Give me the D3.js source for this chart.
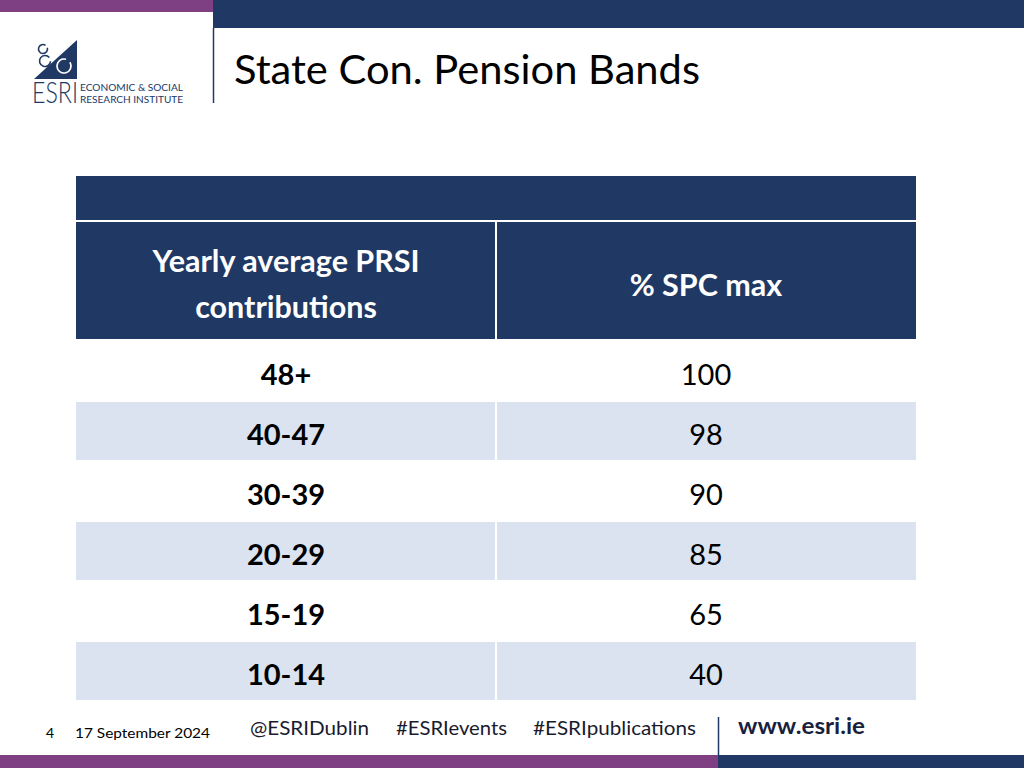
<!DOCTYPE html>
<html>
<head>
<meta charset="utf-8">
<script src="https://cdn.jsdelivr.net/npm/d3@7"></script>
<style>
  html, body { margin: 0; padding: 0; background: #ffffff; }
  svg { display: block; font-family: Lato, "Open Sans", sans-serif; }
</style>
</head>
<body>
<script>

// table contents
var bands       = ["48+", "40-47", "30-39", "20-29", "15-19", "10-14"];
var pctMax      = [100, 98, 90, 85, 65, 40];
var colHeads    = [["Yearly average PRSI", "contributions"], ["% SPC max"]];
var footerTags  = ["@ESRIDublin", "#ESRIevents", "#ESRIpublications"];

var W           = 1024,
    H           = 768;
var navy        = "#203864",
    purple      = "#7f3f83",
    stripe      = "#dae3ef";

var svg = d3.select("body").append("svg")
    .attr("width", W)
    .attr("height", H);

// top bars
svg.append("rect").attr("x", 0).attr("y", 0).attr("width", 213).attr("height", 12).attr("fill", purple);
svg.append("rect").attr("x", 213).attr("y", 0).attr("width", W - 213).attr("height", 28).attr("fill", navy);
svg.append("line").attr("x1", 213.5).attr("x2", 213.5).attr("y1", 28).attr("y2", 103)
    .attr("stroke", navy).attr("stroke-width", 1.5);

// logo
var logo = svg.append("g");
var arc  = d3.arc();
logo.append("path").attr("d", "M34,79 L77,40 L77,79 Z").attr("fill", navy);
// open rings: [cx, cy, r, gap start, colour]
[[43, 49, 4.5, 0.6, navy], [45, 61, 5.5, 0.9, navy], [64, 66, 7, 0.3, "#ffffff"]].forEach(function(c) {
    logo.append("path")
        .attr("transform", "translate(" + c[0] + "," + c[1] + ")")
        .attr("d", arc({ innerRadius: c[2] - 0.8, outerRadius: c[2] + 0.8,
                         startAngle: c[3] + 0.7, endAngle: c[3] + 2 * Math.PI }))
        .attr("fill", c[4]);
});
logo.append("text").attr("x", 32).attr("y", 103)
    .attr("font-size", 29).attr("font-weight", 300).attr("fill", navy)
    .attr("textLength", 46).attr("lengthAdjust", "spacingAndGlyphs")
    .text("ESRI");
logo.append("text").attr("x", 80).attr("y", 91)
    .attr("font-size", 9.5).attr("fill", navy)
    .attr("textLength", 103).attr("lengthAdjust", "spacingAndGlyphs")
    .text("ECONOMIC & SOCIAL");
logo.append("text").attr("x", 80).attr("y", 103)
    .attr("font-size", 9.5).attr("fill", navy)
    .attr("textLength", 103).attr("lengthAdjust", "spacingAndGlyphs")
    .text("RESEARCH INSTITUTE");

// title
svg.append("text").attr("x", 234).attr("y", 84)
    .attr("font-size", 41).attr("fill", "#000000")
    .attr("textLength", 466).attr("lengthAdjust", "spacingAndGlyphs")
    .text("State Con. Pension Bands");

// table geometry
var tLeft  = 76,
    tRight = 916,
    tSplit = 496;

var colX  = [tLeft, tSplit];
var colW  = [tSplit - tLeft, tRight - tSplit];

var yRow = d3.scaleBand()
    .domain(d3.range(bands.length))
    .range([341, 701])
    .paddingInner(0);

// header
svg.append("rect").attr("x", tLeft).attr("y", 176).attr("width", tRight - tLeft).attr("height", 44).attr("fill", navy);
colHeads.forEach(function(lines, c) {
    svg.append("rect").attr("x", colX[c] + (c ? 1 : 0)).attr("y", 222)
        .attr("width", colW[c] - 1).attr("height", 117).attr("fill", navy);
    var cx  = colX[c] + colW[c] / 2;
    var y0  = lines.length == 2 ? 272 : 296;
    lines.forEach(function(s, i) {
        svg.append("text").attr("x", cx).attr("y", y0 + i * 46)
            .attr("text-anchor", "middle").attr("font-size", 30.5).attr("font-weight", 700)
            .attr("fill", "#ffffff").text(s);
    });
});

// body rows
var rows = svg.append("g").selectAll("g")
    .data(bands.map(function(b, i) { return { band: b, pct: pctMax[i], i: i }; }))
    .join("g")
    .attr("transform", function(d) { return "translate(0," + yRow(d.i) + ")"; });

rows.each(function(d) {
    var g = d3.select(this);
    var h = yRow.bandwidth();
    if (d.i % 2 == 1) {
        g.append("rect").attr("x", tLeft).attr("y", 1).attr("width", tSplit - tLeft - 1).attr("height", h - 2).attr("fill", stripe);
        g.append("rect").attr("x", tSplit + 1).attr("y", 1).attr("width", tRight - tSplit - 1).attr("height", h - 2).attr("fill", stripe);
    }
    g.append("text").attr("x", colX[0] + colW[0] / 2).attr("y", h / 2 + 14)
        .attr("text-anchor", "middle").attr("font-size", 29).attr("font-weight", 700)
        .attr("fill", "#000000").text(d.band);
    g.append("text").attr("x", colX[1] + colW[1] / 2).attr("y", h / 2 + 14)
        .attr("text-anchor", "middle").attr("font-size", 29)
        .attr("fill", "#000000").text(d.pct);
});

// footer
svg.append("text").attr("x", 46).attr("y", 738).attr("font-size", 14).text("4");
svg.append("text").attr("x", 75).attr("y", 738).attr("font-size", 14)
    .attr("textLength", 135).attr("lengthAdjust", "spacingAndGlyphs").text("17 September 2024");
var tagX = [250, 396, 533];
var tagW = [119, 111, 163];
footerTags.forEach(function(s, i) {
    svg.append("text").attr("x", tagX[i]).attr("y", 735).attr("font-size", 20)
        .attr("textLength", tagW[i]).attr("lengthAdjust", "spacingAndGlyphs")
        .attr("fill", "#1a1a2e").text(s);
});
svg.append("line").attr("x1", 718.5).attr("x2", 718.5).attr("y1", 717).attr("y2", 756)
    .attr("stroke", navy).attr("stroke-width", 1.5);
svg.append("text").attr("x", 738).attr("y", 734).attr("font-size", 23.5).attr("font-weight", 700)
    .attr("textLength", 127).attr("lengthAdjust", "spacingAndGlyphs")
    .attr("fill", "#1a1f3d").text("www.esri.ie");

svg.append("rect").attr("x", 0).attr("y", 755).attr("width", 718).attr("height", 13).attr("fill", purple);
svg.append("rect").attr("x", 718).attr("y", 755).attr("width", W - 718).attr("height", 13).attr("fill", navy);

</script>
</body>
</html>
